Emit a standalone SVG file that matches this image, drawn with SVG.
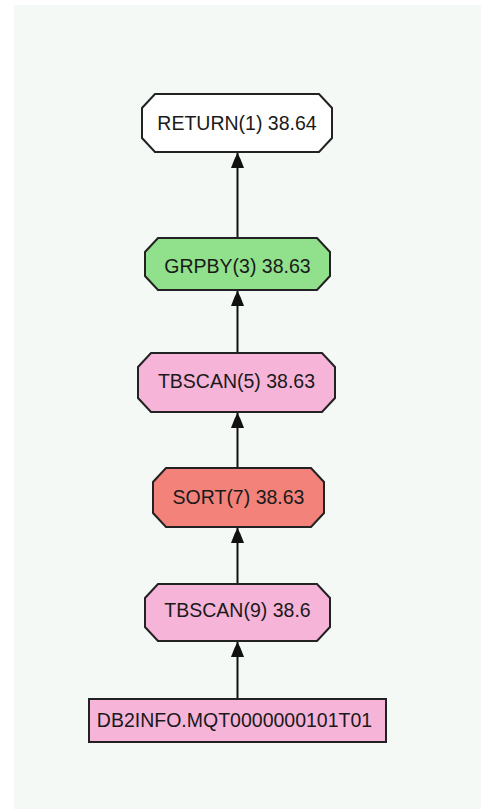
<svg xmlns="http://www.w3.org/2000/svg" width="481" height="810" viewBox="0 0 481 810">
  <style>
    .node { stroke: #222; stroke-width: 2; stroke-linejoin: miter; }
    .ret { fill: #ffffff; }
    .grp { fill: #90e08c; }
    .scan { fill: #f6b4d8; }
    .sort { fill: #f2827a; }
    .lbl { font-family: "Liberation Sans", Arial, sans-serif; font-size: 19.5px; fill: #1a1a1a; text-anchor: middle; }
    .edge { stroke: #111; stroke-width: 2; fill: none; }
  </style>
  <defs>
    <marker id="arrow" markerUnits="userSpaceOnUse" markerWidth="18" markerHeight="16" viewBox="-16 -8 18 16" refX="0" refY="0" orient="auto">
      <path d="M0,0 L-6,-3 L-15,-6.5 L-15,6.5 L-6,3 Z" fill="#111"/>
    </marker>
  </defs>

  <!-- canvas -->
  <rect x="14" y="5" width="467" height="804" fill="#f4f9f6"/>

  <!-- connectors: child to parent -->
  <g id="edges">
    <line class="edge" x1="237.5" y1="238" x2="237.5" y2="153" marker-end="url(#arrow)"/>
    <line class="edge" x1="237.5" y1="353" x2="237.5" y2="291" marker-end="url(#arrow)"/>
    <line class="edge" x1="237.5" y1="468" x2="237.5" y2="413" marker-end="url(#arrow)"/>
    <line class="edge" x1="237.5" y1="584" x2="237.5" y2="528" marker-end="url(#arrow)"/>
    <line class="edge" x1="237.5" y1="699" x2="237.5" y2="642" marker-end="url(#arrow)"/>
  </g>

  <g id="return1">
    <polygon class="node ret" points="155,94 319,94 332,108 332,138 319,152 155,152 142,138 142,108"/>
    <text class="lbl" x="237" y="130">RETURN(1) 38.64</text>
  </g>

  <g id="grpby3">
    <polygon class="node grp" points="158,238 317,238 330,252 330,276 317,290 158,290 145,276 145,252"/>
    <text class="lbl" x="237.5" y="273">GRPBY(3) 38.63</text>
  </g>

  <g id="tbscan5">
    <polygon class="node scan" points="151,353 322,353 335,367 335,398 322,412 151,412 138,398 138,367"/>
    <text class="lbl" x="236.5" y="388">TBSCAN(5) 38.63</text>
  </g>

  <g id="sort7">
    <polygon class="node sort" points="166,468 311,468 324,482 324,513 311,527 166,527 153,513 153,482"/>
    <text class="lbl" x="238.5" y="504">SORT(7) 38.63</text>
  </g>

  <g id="tbscan9">
    <polygon class="node scan" points="158,584 317,584 330,598 330,627 317,641 158,641 145,627 145,598"/>
    <text class="lbl" x="237.5" y="617">TBSCAN(9) 38.6</text>
  </g>

  <g id="mqt_table">
    <rect class="node scan" x="89" y="699" width="297" height="43"/>
    <text class="lbl" x="234.5" y="727">DB2INFO.MQT0000000101T01</text>
  </g>
</svg>
